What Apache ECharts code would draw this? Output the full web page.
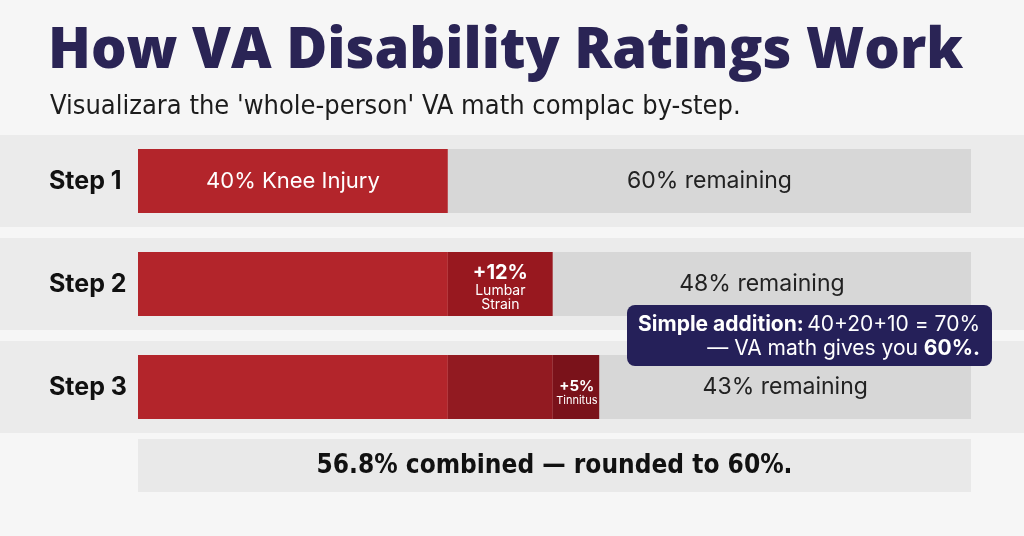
<!DOCTYPE html>
<html style="height: 100%">
    <head>
        <meta charset="utf-8">
    </head>
    <body style="height: 100%; margin: 0; background: #f6f6f6;">
        <div id="main" style="width: 1024px; height: 536px;"></div>
        <script src="https://cdn.jsdelivr.net/npm/echarts@6/dist/echarts.min.js"></script>
        <script>
        // rows
        var steps = ['Step 1', 'Step 2', 'Step 3'];
        // segment widths as drawn (share of the track, %)
        var kneeVals = [37.2, 37.2, 37.2];
        var lumbarVals = [0, 12.6, 12.6];
        var tinnitusVals = [0, 0, 5.6];
        var remainVals = [62.8, 50.2, 44.6];
        // label texts
        var kneeLabels = ['40% Knee Injury', '', ''];
        var lumbarLabels = ['', '{b|+12%}\n{s|Lumbar}\n{s|Strain}', ''];
        var tinnitusLabels = ['', '', '{b|+5%}\n{s|Tinnitus}'];
        var remainLabels = ['60% remaining', '48% remaining', '43% remaining'];
        var lumbarColors = ['#98181f', '#98181f', '#921a21'];

        var title = 'How VA Disability Ratings Work';
        var subtitle = "Visualizara the 'whole-person' VA math complac by-step.";
        var footer = '56.8% combined \u2014 rounded to 60%.';

        var chart = echarts.init(document.getElementById('main'));

        function seg(name, vals, color, labels, labelStyle) {
            return {
                name: name,
                type: 'bar',
                stack: 'total',
                barWidth: 64,
                silent: true,
                data: vals.map(function (v, i) {
                    return {
                        value: v,
                        itemStyle: { color: typeof color === 'string' ? color : color[i] },
                        label: { show: labels[i] !== '', formatter: labels[i] }
                    };
                }),
                label: Object.assign({ position: 'inside' }, labelStyle)
            };
        }

        var option = {
            animation: false,
            backgroundColor: '#f6f6f6',
            grid: { left: 138, right: 53, top: 129.5, bottom: 97.5 },
            xAxis: { type: 'value', min: 0, max: 100, show: false },
            yAxis: {
                type: 'category',
                data: steps,
                inverse: true,
                axisLine: { show: false },
                axisTick: { show: false },
                axisLabel: {
                    align: 'left',
                    margin: 89,
                    color: '#111',
                    fontFamily: 'Inter',
                    fontWeight: 700,
                    fontSize: 25
                }
            },
            series: [
                seg('Knee', kneeVals, '#b3252b', kneeLabels,
                    { color: '#fff', fontFamily: 'Inter', fontSize: 22 }),
                seg('Lumbar', lumbarVals, lumbarColors, lumbarLabels, {
                    color: '#fff', fontFamily: 'Inter', offset: [0, 3],
                    rich: {
                        b: { fontSize: 20, fontWeight: 700, color: '#fff', lineHeight: 22 },
                        s: { fontSize: 14, color: '#fff', lineHeight: 14 }
                    }
                }),
                seg('Tinnitus', tinnitusVals, '#7a121a', tinnitusLabels, {
                    color: '#fff', fontFamily: 'Inter', position: 'insideRight', distance: 2,
                    offset: [0, 5],
                    rich: {
                        b: { fontSize: 15, fontWeight: 700, color: '#fff', lineHeight: 18, align: 'center' },
                        s: { fontSize: 11, color: '#fff', lineHeight: 12, align: 'center' }
                    }
                }),
                seg('Remaining', remainVals, '#d7d7d7', remainLabels,
                    { color: '#222', fontFamily: 'Inter', fontSize: 23 })
            ]
        };
        chart.setOption(option);

        // row bands and overlays placed from the axes
        var bandH = 92;
        var gr = [];
        steps.forEach(function (s) {
            var cy = chart.convertToPixel({ yAxisIndex: 0 }, s);
            gr.push({
                type: 'rect', z: -10, silent: true,
                shape: { x: 0, y: cy - bandH / 2, width: 1024, height: bandH },
                style: { fill: '#ebebeb' }
            });
        });
        var x0 = chart.convertToPixel({ xAxisIndex: 0 }, 0);
        var x1 = chart.convertToPixel({ xAxisIndex: 0 }, 100);
        gr.push({
            type: 'rect', silent: true,
            shape: { x: x0, y: 439, width: x1 - x0, height: 53 },
            style: { fill: '#e9e9e9' }
        });
        gr.push({
            type: 'text', silent: true,
            style: {
                text: footer, x: (x0 + x1) / 2, y: 466,
                align: 'center', verticalAlign: 'middle',
                fill: '#111', font: 'bold 26px "DejaVu Sans Condensed", "Roboto Condensed", Roboto'
            }
        });
        gr.push({
            type: 'text', silent: true,
            style: {
                text: title, x: 48, y: 52, verticalAlign: 'middle',
                fill: '#2a2455', font: '800 56px "Open Sans"'
            }
        });
        gr.push({
            type: 'text', silent: true,
            style: {
                text: subtitle, x: 50, y: 107, verticalAlign: 'middle',
                fill: '#1c1c1c', font: '27px "DejaVu Sans Condensed", "Roboto Condensed", Roboto'
            }
        });
        // callout
        gr.push({
            type: 'rect', silent: true, z: 100,
            shape: { x: 627, y: 305, width: 365, height: 61, r: 8 },
            style: { fill: '#252059' }
        });
        gr.push({
            type: 'text', silent: true, z: 101,
            style: {
                x: 980, y: 337, align: 'right', verticalAlign: 'middle',
                text: '{b|Simple addition:} {n|40+20+10 = 70%}\n{n|\u2014 VA math gives you }{b|60%.}',
                rich: {
                    b: { fontFamily: 'Inter', fontWeight: 700, fontSize: 21, fill: '#fff', lineHeight: 24 },
                    n: { fontFamily: 'Inter', fontSize: 21, fill: '#fff', lineHeight: 24 }
                },
                fill: '#fff'
            }
        });
        chart.setOption({ graphic: gr });
        </script>
    </body>
</html>
